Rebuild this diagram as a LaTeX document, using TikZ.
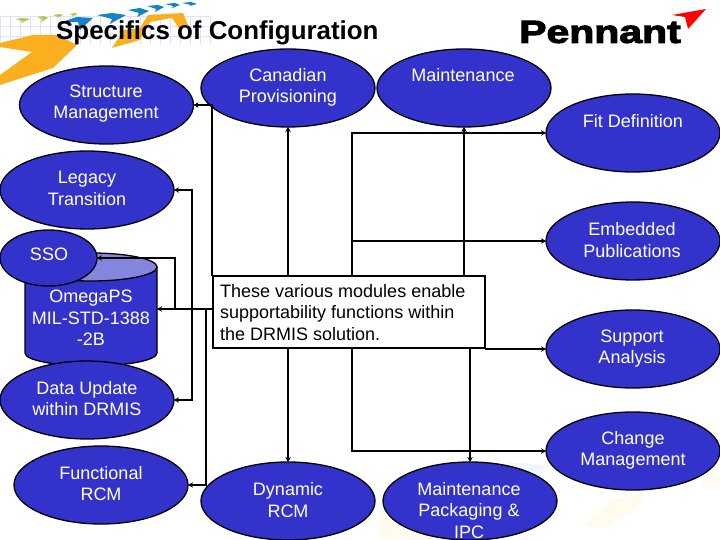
\documentclass[tikz,border=0pt]{standalone}
\usepackage{fontspec}
\setmainfont{Liberation Sans}
\newfontfamily\logofont[FakeBold=3]{Liberation Sans Bold}
\usetikzlibrary{arrows.meta,shapes.geometric}
\definecolor{ovalblue}{RGB}{51,51,204}
\definecolor{lidblue}{RGB}{133,133,222}
\definecolor{wingorange}{RGB}{250,176,30}
\definecolor{wingblue}{RGB}{20,130,200}
\definecolor{winggreen}{RGB}{170,205,70}
\definecolor{faintorange}{RGB}{255,251,238}
\definecolor{faintblue}{RGB}{240,247,252}
\tikzset{
    oval/.style={ellipse,draw=black,fill=ovalblue,line width=1.3pt,inner sep=0,outer sep=0,minimum width=174,minimum height=78},
    ovaltext/.style={align=center,inner sep=0,text=white,font=\fontsize{18}{21.6}\selectfont},
    notebox/.style={rectangle,draw=black,fill=white,line width=1.7pt,inner sep=0,outer sep=0,minimum width=272,minimum height=72},
    notetext/.style={align=left,anchor=west,inner sep=0,text=black,font=\fontsize{18}{21.5}\selectfont},
    link/.style={draw=black,line width=1.5pt},
    linkto/.style={link,-{Stealth[length=5pt,width=5.5pt]}}
}
\begin{document}
\begin{tikzpicture}[x=1pt,y=-1pt]
        \useasboundingbox (0,0) rectangle (720,540);

        \foreach \gx in {0,10,...,210} {
            \draw[blue!12,line width=0.4pt] (\gx,16)--(\gx,44);
        }
        \foreach \gy in {16,26,36} {
            \draw[blue!12,line width=0.4pt] (0,\gy)--(210,\gy);
        }
        \fill[wingorange] (0,43)--(33,35)--(57,35)--(77,45)--(53,68)--(0,85)--(0,75)--(32,52)--(0,47)--cycle;
        \fill[wingorange] (112,48)--(124,30)--(140,28)--(148,15)--(183,13)--(188,25)--(180,30)--(172,18)--(150,22)--(140,40)--cycle;
        \fill[wingblue] (62,22)--(77,17)--(93,18)--(80,30)--(78,22)--cycle;
        \fill[wingblue] (97,15)--(112,13)--(126,15)--(110,24)--(112,19)--cycle;
        \fill[wingblue] (128,10)--(140,8)--(149,11)--(137,17)--(139,13)--cycle;
        \fill[wingblue] (147,6)--(158,5)--(164,7)--(155,12)--(156,9)--cycle;
        \fill[wingblue] (165,4)--(175,3)--(180,5)--(172,8)--(173,6)--cycle;
        \fill[wingblue] (182,3)--(191,2)--(197,4)--(190,6)--(191,5)--cycle;
        \fill[winggreen] (15,19)--(24,18)--(30,19)--(21,23)--(22,21)--cycle;
        \fill[winggreen] (37,17)--(44,16)--(48,18)--(41,22)--(42,19)--cycle;
        \fill[winggreen] (53,15)--(60,14)--(63,15)--(57,18)--(58,17)--cycle;
        \fill[winggreen] (70,14)--(75,13)--(78,14)--(73,16)--cycle;

        \fill[faintorange] (380,505)--(420,530)--(470,540)--(380,540)--cycle;
        \fill[faintorange] (582,527)--(610,500)--(643,493)--(640,505)--(610,527)--cycle;
        \fill[faintorange] (700,482)--(720,472)--(720,488)--(705,487)--cycle;
        \fill[faintblue] (505,462)--(545,465)--(540,478)--cycle;

        \node[inner sep=0,anchor=west,font=\fontsize{25.9}{30}\selectfont\bfseries] (title) at (56,33) {Specifics of Configuration};
        \node[inner sep=0,anchor=west,font=\fontsize{32}{36}\logofont] (logo) at (519,32) {\scalebox{1.28}[1]{Pennant}};
        \fill[red] (672,15)--(706,9)--(688,29)--(685,17)--cycle;

        \draw[fill=ovalblue,line width=1.3pt] (25,267)--(25,353) arc [start angle=180,end angle=0,x radius=66,y radius=13]--(157,267)--cycle;
        \node[ellipse,draw=black,fill=lidblue,line width=1.3pt,inner sep=0,outer sep=0,minimum width=132,minimum height=28] (lid) at (91,267) {};
        \node[inner sep=0,outer sep=0,minimum width=132] (omega) at (91,309) {};

        \node[oval] (structure) at (106.5,105) {};
        \node[oval] (canadian) at (288,88) {};
        \node[oval] (maint) at (464,88) {};
        \node[oval] (fit) at (633,133) {};
        \node[oval] (legacy) at (87,190) {};
        \node[oval] (embedded) at (633,241) {};
        \node[oval,minimum width=97,minimum height=56] (sso) at (48.5,258) {};
        \node[oval] (update) at (87,400) {};
        \node[oval] (functional) at (101,485) {};
        \node[oval] (dynamic) at (288,501) {};
        \node[oval] (packaging) at (470,501) {};
        \node[oval] (support) at (633,349) {};
        \node[oval] (change) at (633,451) {};
        \node[notebox] (note) at (349,312) {};

        \coordinate (busa) at (175,309);
        \coordinate (busb) at (192,309);
        \coordinate (busc) at (206,309);
        \coordinate (busd) at (212,276);
        \coordinate (buse) at (352,276);
        \coordinate (busf) at (352,348);

        \draw[linkto] (omega.east -| note.west)--(omega.east);
        \draw[linkto] (busa) |- (sso.east);
        \draw[linkto] (busb) |- (legacy.east);
        \draw[linkto] (busb) |- (update.east);
        \draw[linkto] (busc) |- (functional.east);
        \draw[linkto] (busd) |- (structure.east);
        \draw[linkto] (buse) |- (fit.west);
        \draw[linkto] (buse) |- (embedded.west);
        \draw[linkto] (busf) |- (change.west);
        \draw[linkto] (support.west -| note.east)--(support.west);
        \draw[linkto] (note.north -| canadian)--(canadian.south);
        \draw[linkto] (note.north -| maint)--(maint.south);
        \draw[linkto] (note.south -| dynamic)--(dynamic.north);
        \draw[linkto] (note.south -| packaging)--(packaging.north);

        \node[ovaltext] (structuretext) at (106,103.5) {Structure\\Management};
        \node[ovaltext] (canadiantext) at (288,87.5) {Canadian\\Provisioning};
        \node[ovaltext] (mainttext) at (463,75) {Maintenance};
        \node[ovaltext] (fittext) at (633,121) {Fit Definition};
        \node[ovaltext] (legacytext) at (87,188.5) {Legacy\\Transition};
        \node[ovaltext] (embeddedtext) at (632,240) {Embedded\\Publications};
        \node[ovaltext] (ssotext) at (49,254) {SSO};
        \node[ovaltext] (omegatext) at (91,318) {OmegaPS\\MIL-STD-1388\\-2B};
        \node[ovaltext] (updatetext) at (87,398.5) {Data Update\\within DRMIS};
        \node[ovaltext] (functionaltext) at (101,483.5) {Functional\\RCM};
        \node[ovaltext] (dynamictext) at (288,500) {Dynamic\\RCM};
        \node[ovaltext] (packagingtext) at (469,510.5) {Maintenance\\Packaging \&\\IPC};
        \node[ovaltext] (supporttext) at (632,348.5) {Support\\Analysis};
        \node[ovaltext] (changetext) at (633,450.5) {Change\\Management};
        \node[notetext] (notetext) at (220,312.5) {These various modules enable\\supportability functions within\\the DRMIS solution.};
    \end{tikzpicture}
\end{document}
